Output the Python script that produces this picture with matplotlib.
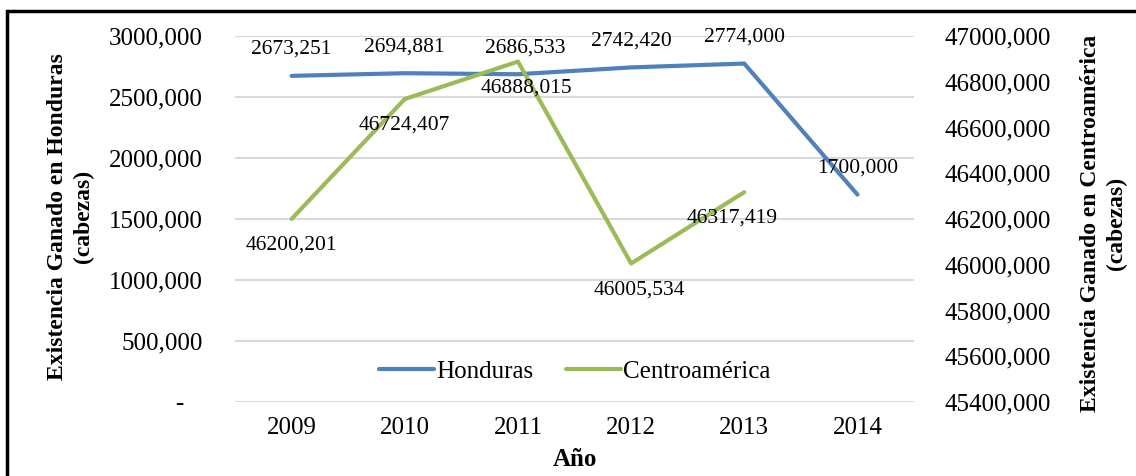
import matplotlib.pyplot as plt
from matplotlib.patches import Rectangle

plt.rcParams['font.family'] = ['Liberation Serif', 'DejaVu Serif']

years = ['2009', '2010', '2011', '2012', '2013', '2014']
honduras = [2673251, 2694881, 2686533, 2742420, 2774000, 1700000]
honduras_labels = ['2673,251', '2694,881', '2686,533', '2742,420', '2774,000', '1700,000']
centro = [46200201, 46724407, 46888015, 46005534, 46317419]
centro_labels = ['46200,201', '46724,407', '46888,015', '46005,534', '46317,419']

left_ticks = [0, 500000, 1000000, 1500000, 2000000, 2500000, 3000000]
left_ticklabels = ['-   ', '500,000', '1000,000', '1500,000', '2000,000', '2500,000', '3000,000']
right_ticks = [45400000, 45600000, 45800000, 46000000, 46200000, 46400000, 46600000, 46800000, 47000000]
right_ticklabels = ['45400,000', '45600,000', '45800,000', '46000,000', '46200,000',
                    '46400,000', '46600,000', '46800,000', '47000,000']

blue = '#4f81bd'
green = '#9bbb59'

fig = plt.figure(figsize=(11.36, 4.76), dpi=100)
ax = fig.add_axes([0.2069, 0.1555, 0.5977, 0.7689])
ax2 = ax.twinx()

x = list(range(len(years)))
h_line, = ax.plot(x, honduras, color=blue, lw=3, solid_capstyle='round', label='Honduras', zorder=3)
c_line, = ax2.plot(x[:len(centro)], centro, color=green, lw=3, solid_capstyle='round',
                   label='Centroamérica', zorder=3)

ax.set_xlim(-0.5, len(years) - 0.5)
ax.set_ylim(0, 3000000)
ax2.set_ylim(45400000, 47000000)

ax.set_xticks(x)
ax.set_xticklabels(years, fontsize=18)
ax.set_yticks(left_ticks)
ax.set_yticklabels(left_ticklabels, fontsize=18)
ax2.set_yticks(right_ticks)
ax2.set_yticklabels(right_ticklabels, fontsize=18)

ax.tick_params(axis='x', length=0, pad=11)
ax.tick_params(axis='y', length=0, pad=23)
ax2.tick_params(axis='y', length=0, pad=22)

ax.grid(axis='y', color='#d9d9d9', lw=1.5)
ax.set_axisbelow(True)
for a in (ax, ax2):
    for s in a.spines.values():
        s.set_visible(False)

# data labels
for i, (v, t) in enumerate(zip(honduras, honduras_labels)):
    dx = 5 if i == 2 else 0
    ax.annotate(t, (i, v), xytext=(dx, 19), textcoords='offset points',
                ha='center', va='center', fontsize=15.5)
for i, (v, t) in enumerate(zip(centro, centro_labels)):
    dx = {2: 6, 3: 6, 4: -9}.get(i, 0)
    ax2.annotate(t, (i, v), xytext=(dx, -19), textcoords='offset points',
                 ha='center', va='center', fontsize=15.5)

ax.legend([h_line, c_line], ['Honduras', 'Centroamérica'], loc='center',
          bbox_to_anchor=(0.5, 0.082), ncol=2, frameon=False, fontsize=18,
          handlelength=2.2, handletextpad=0.1, columnspacing=1.3)

ax.set_xlabel('Año', fontsize=18, fontweight='bold', labelpad=6)
fig.text(0.062, 0.545, 'Existencia Ganado en Honduras\n(cabezas)', rotation=90,
         ha='center', va='center', ma='center', fontsize=17, fontweight='bold',
         linespacing=1.35)
fig.text(0.9715, 0.53, 'Existencia Ganado en Centroamérica\n(cabezas)', rotation=90,
         ha='center', va='center', ma='center', fontsize=17, fontweight='bold',
         linespacing=1.35)

fig.add_artist(Rectangle((7 / 1136, -0.1), 1.2, 1.077, transform=fig.transFigure,
                         fill=False, edgecolor='black', lw=2.5))

fig.savefig('out.png', dpi=100)
